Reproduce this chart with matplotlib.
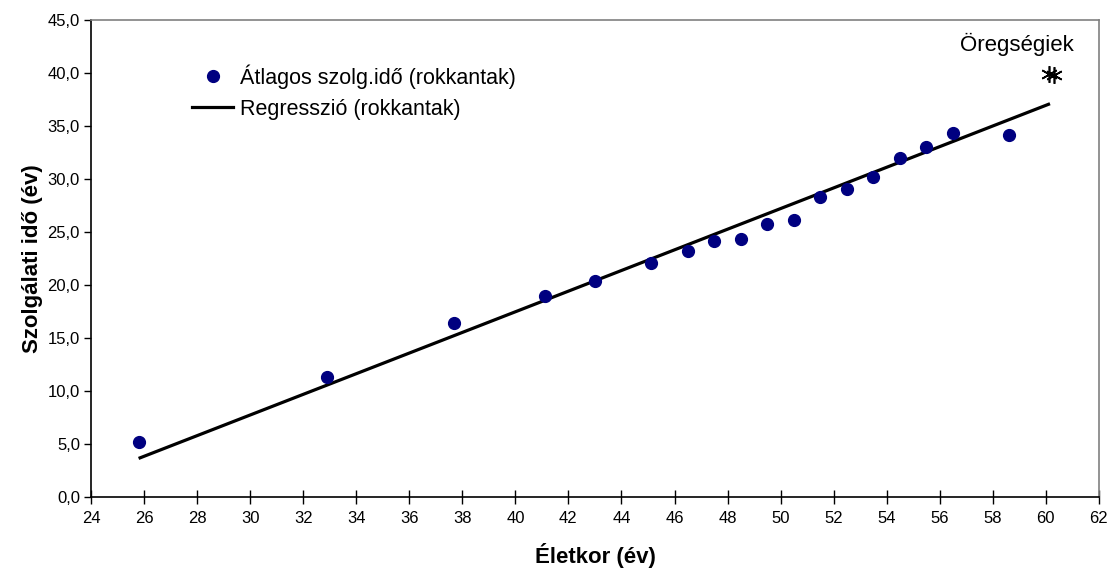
import matplotlib.pyplot as plt
from matplotlib.ticker import FuncFormatter

plt.rcParams['font.family'] = ['Liberation Sans', 'DejaVu Sans']

# atlagos szolgalati ido (rokkantak)
eletkor = [25.8, 32.9, 37.7, 41.1, 43.0, 45.1, 46.5, 47.5, 48.5, 49.5,
           50.5, 51.5, 52.5, 53.5, 54.5, 55.5, 56.5, 58.6]
szolg_ido = [5.2, 11.3, 16.4, 19.0, 20.4, 22.1, 23.2, 24.2, 24.3, 25.8,
             26.1, 28.3, 29.1, 30.2, 32.0, 33.0, 34.3, 34.2]

# regresszio vegpontjai
reg_x = [25.85, 60.1]
reg_y = [3.7, 37.05]

# oregsegiek
oreg_x = [60.1, 60.3]
oreg_y = [39.9, 39.8]

fig = plt.figure(figsize=(11.1, 5.72), dpi=100)
ax = fig.add_axes([0.082, 0.131, 0.908, 0.834])

ax.plot(eletkor, szolg_ido, 'o', color='#000080', ms=8.5, ls='none',
        label='Átlagos szolg.idő (rokkantak)', zorder=3)
ax.plot(reg_x, reg_y, '-', color='black', lw=2.3,
        label='Regresszió (rokkantak)', zorder=2)
ax.plot(oreg_x, oreg_y, marker=(6, 2, 0), color='black', ms=12, mew=1.2,
        ls='none', zorder=4)
ax.text(58.9, 42.7, 'Öregségiek', ha='center', va='center', fontsize=16)

ax.set_xlim(24, 62)
ax.set_ylim(0, 45)
ax.set_xticks(range(24, 63, 2))
ax.set_yticks([i * 5 for i in range(10)])
ax.yaxis.set_major_formatter(FuncFormatter(lambda v, p: f'{v:.1f}'.replace('.', ',')))
ax.tick_params(axis='x', direction='inout', length=10, width=1, labelsize=12, pad=5)
ax.tick_params(axis='y', direction='out', length=5, width=1, labelsize=12, pad=3)

for s in ['left', 'bottom']:
    ax.spines[s].set_color('black')
    ax.spines[s].set_linewidth(1.2)
for s in ['top', 'right']:
    ax.spines[s].set_color('#808080')
    ax.spines[s].set_linewidth(1.2)

ax.set_xlabel('Életkor (év)', fontsize=16, fontweight='bold', labelpad=12)
ax.set_ylabel('Szolgálati idő (év)', fontsize=16, fontweight='bold', labelpad=3)

ax.legend(loc='upper left', bbox_to_anchor=(0.092, 0.925), frameon=False,
          fontsize=15.5, handlelength=1.9, handletextpad=0.3, borderaxespad=0,
          labelspacing=0.45)

fig.savefig('out.png', dpi=100)
